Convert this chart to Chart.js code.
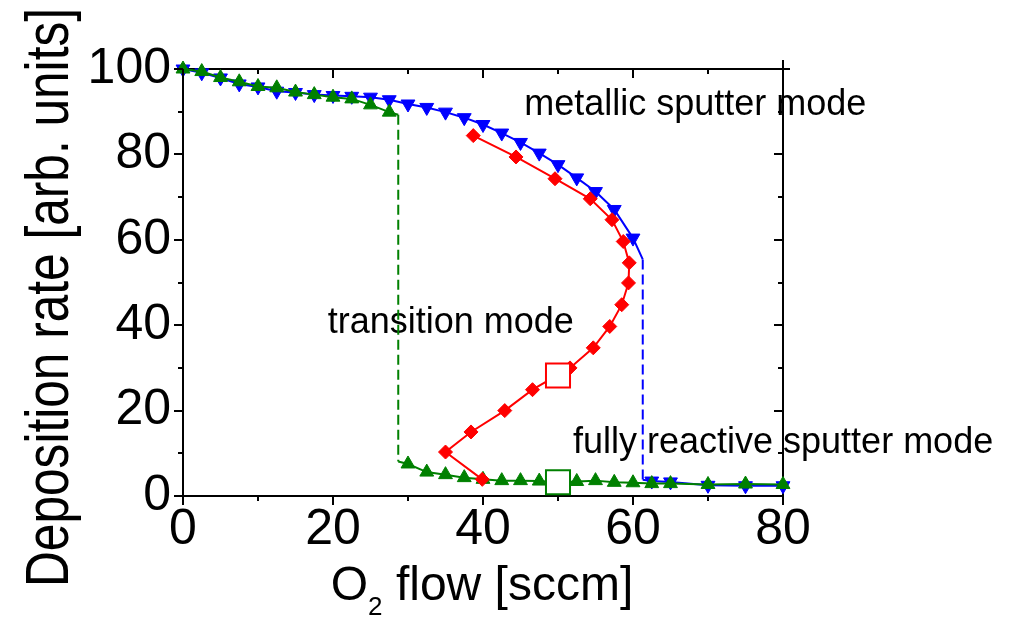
<!DOCTYPE html>
<html>
<head>
<meta charset="utf-8">
<title>Deposition rate vs O2 flow</title>
<script src="https://cdn.jsdelivr.net/npm/chart.js@4.4.1/dist/chart.umd.min.js"></script>
<style>
  html, body { margin: 0; padding: 0; background: #fff; }
  canvas { display: block; }
</style>
</head>
<body>
<canvas id="rateChart" width="1012" height="624"></canvas>
<script>
// O2 flow [sccm] and deposition rate [arb. units]
// metallic branch (blue, falling triangles), jumps down at ~61 sccm
var metalFlow = [0, 2.5, 5, 7.5, 10, 12.5, 15, 17.5, 20, 22.5, 25, 27.5, 30, 32.5, 35, 37.5, 40,
                 42.5, 45, 47.5, 50, 52.5, 55, 57.5, 60, 61.3, 61.3, 62.5, 65, 70, 75, 80];
var metalRate = [100, 99.1, 97.9, 96.5, 95.8, 94.8, 94.5, 94.0, 93.8, 93.6, 93.4, 92.8, 91.8, 91.0, 89.9, 88.6, 87.0,
                 85.0, 82.8, 80.3, 77.6, 74.5, 71.3, 67.1, 60.4, 55.4, 3.8, 3.5, 3.3, 2.5, 2.4, 2.4];

// reactive branch (green, rising triangles), jumps down at ~29 sccm
var reactFlow = [0, 2.5, 5, 7.5, 10, 12.5, 15, 17.5, 20, 22.5, 25, 27.5, 28.7, 28.7,
                 30, 32.5, 35, 37.5, 40, 42.5, 45, 47.5, 50, 52.5, 55, 57.5, 60, 62.5, 65, 70, 75, 80];
var reactRate = [100, 99.4, 98.0, 97.0, 95.9, 95.6, 94.6, 94.0, 93.4, 93.0, 91.6, 89.9, 89.3, 8.1,
                 7.5, 5.6, 5.0, 4.3, 3.9, 3.6, 3.6, 3.5, 3.2, 3.4, 3.6, 3.2, 3.1, 2.9, 2.9, 2.7, 2.8, 2.7];

// transition mode (red diamonds), S-shaped curve
var transFlow = [38.7, 44.4, 49.6, 54.3, 57.2, 58.7, 59.5, 59.4, 58.5, 56.9, 54.7, 51.6, 46.6, 42.9, 38.4, 35.0, 39.9];
var transRate = [84.4, 79.4, 74.3, 69.6, 64.7, 59.6, 54.6, 49.9, 44.8, 39.7, 34.7, 30.0, 24.9, 20.0, 15.0, 10.3, 3.9];

// open squares: operating points at 50 sccm
var opFlow = [50, 50];
var opRate = [28.2, 3.2];

// labelled ticks
var xTickLabels = [0, 20, 40, 60, 80];
var yTickLabels = [0, 20, 40, 60, 80, 100];

var FONT = '"Liberation Sans", Arial, sans-serif';
var BLUE = '#0000ff', GREEN = '#008000', RED = '#ff0000';

function toPoints(xs, ys) {
    return xs.map(function(x, i) { return { x: x, y: ys[i] }; });
}

// no marker on the corner points of a vertical jump (xs is the whole branch)
function markerSize(xs, r, offset) {
    return function(c) {
        var i = c.dataIndex + offset;
        return (xs[i - 1] === xs[i] || xs[i + 1] === xs[i]) ? 0 : r;
    };
}

function curve(xs, ys, from, to, color, style, rot, r, order) {
    return {
        data: toPoints(xs.slice(from, to), ys.slice(from, to)),
        borderColor: color,
        borderWidth: 2,
        backgroundColor: color,
        fill: false,
        pointStyle: style,
        pointRotation: rot,
        pointRadius: markerSize(xs, r, from),
        pointBorderWidth: 1,
        pointBackgroundColor: color,
        pointBorderColor: color,
        tension: 0,
        clip: false,
        order: order
    };
}

// split a branch where two neighbours share the same flow (the jump)
// into solid part, dashed jump, solid part
function branch(xs, ys, color, style, rot, r, order) {
    var k = -1;
    for (var i = 0; i < xs.length - 1; i++) {
        if (xs[i] === xs[i + 1]) { k = i; break; }
    }
    if (k < 0) return [curve(xs, ys, 0, xs.length, color, style, rot, r, order)];
    var jump = curve(xs, ys, k, k + 2, color, style, rot, 0, order);
    jump.borderDash = [10, 5];
    return [
        curve(xs, ys, 0, k + 1, color, style, rot, r, order),
        jump,
        curve(xs, ys, k + 1, xs.length, color, style, rot, r, order)
    ];
}

function opPoint(i, color) {
    return {
        data: [{ x: opFlow[i], y: opRate[i] }],
        showLine: false,
        pointStyle: 'rect',
        pointRadius: 17,
        pointBorderWidth: 2,
        pointBorderColor: color,
        pointBackgroundColor: '#fff',
        clip: false,
        order: 0
    };
}

// annotations, titles and the Origin-style tick marks
var plotText = {
    id: 'plotText',
    beforeDraw: function(chart) {
        var ctx = chart.ctx, xs = chart.scales.x, ys = chart.scales.y;
        var notes = [
            { text: 'metallic sputter mode', x: 45.5, y: 89.3 },
            { text: 'transition mode', x: 19.3, y: 38.2 },
            { text: 'fully reactive sputter mode', x: 52.0, y: 10.1 }
        ];
        ctx.save();
        ctx.fillStyle = '#000';
        ctx.textAlign = 'left';
        ctx.textBaseline = 'alphabetic';
        ctx.font = '36px ' + FONT;
        notes.forEach(function(n) {
            ctx.fillText(n.text, xs.getPixelForValue(n.x), ys.getPixelForValue(n.y));
        });
        ctx.restore();
    },
    afterDraw: function(chart) {
        var ctx = chart.ctx, area = chart.chartArea;
        ctx.save();
        ctx.fillStyle = '#000';

        // y title, narrow like the original
        ctx.save();
        ctx.translate(area.left - 115, (area.top + area.bottom) / 2 + 15);
        ctx.rotate(-Math.PI / 2);
        ctx.scale(0.8, 1);
        ctx.textAlign = 'center';
        ctx.textBaseline = 'alphabetic';
        ctx.font = '62px ' + FONT;
        ctx.fillText('Deposition rate [arb. units]', 0, 0);
        ctx.restore();

        // x title with subscript
        var big = '48px ' + FONT, small = '26px ' + FONT;
        ctx.textAlign = 'left';
        ctx.textBaseline = 'alphabetic';
        ctx.font = big;
        var wO = ctx.measureText('O').width;
        var wRest = ctx.measureText(' flow [sccm]').width;
        ctx.font = small;
        var w2 = ctx.measureText('2').width;
        var x0 = (area.left + area.right) / 2 - 1 - (wO + w2 + wRest) / 2;
        var base = area.bottom + 104;
        ctx.font = big;
        ctx.fillText('O', x0, base);
        ctx.font = small;
        ctx.fillText('2', x0 + wO, base + 15);
        ctx.font = big;
        ctx.fillText(' flow [sccm]', x0 + wO + w2, base);

        // ticks: out on bottom/left, in on top/right; minor every 10
        ctx.strokeStyle = '#000';
        ctx.lineWidth = 2;
        ctx.beginPath();
        ['x', 'x2', 'y', 'y2'].forEach(function(id) {
            var s = chart.scales[id];
            s.ticks.forEach(function(t) {
                var len = t.value % 20 === 0 ? 9 : 5;
                var p = Math.round(s.getPixelForValue(t.value));
                if (id === 'x') { ctx.moveTo(p, area.bottom); ctx.lineTo(p, area.bottom + len); }
                if (id === 'y') { ctx.moveTo(area.left - len, p); ctx.lineTo(area.left, p); }
                if (id === 'x2') {
                    ctx.moveTo(p, area.top + len);
                    ctx.lineTo(p, t.value === s.max ? area.top - 9 : area.top);
                }
                if (id === 'y2') {
                    ctx.moveTo(area.right - len, p);
                    ctx.lineTo(t.value === s.max ? area.right + 7 : area.right, p);
                }
            });
        });
        ctx.stroke();
        ctx.restore();
    }
};

var axisBorder = { display: true, color: '#000', width: 2 };
var noGrid = { display: false, drawTicks: false };

var datasets = [opPoint(0, RED), opPoint(1, GREEN)]
    .concat(branch(transFlow, transRate, RED, 'rectRot', 0, 7, 1))
    .concat(branch(reactFlow, reactRate, GREEN, 'triangle', 0, 8, 2))
    .concat(branch(metalFlow, metalRate, BLUE, 'triangle', 180, 8, 3));

new Chart(document.getElementById('rateChart').getContext('2d'), {
    type: 'line',
    data: { datasets: datasets },
    options: {
        responsive: false,
        devicePixelRatio: 1,
        animation: false,
        layout: { padding: 0 },
        plugins: {
            legend: { display: false },
            tooltip: { enabled: false }
        },
        scales: {
            x: {
                type: 'linear', position: 'bottom', min: 0, max: 80,
                grid: noGrid, border: axisBorder,
                ticks: {
                    stepSize: 10, autoSkip: false, maxRotation: 0, padding: 4, color: '#000',
                    font: { family: FONT, size: 50 },
                    callback: function(v) { return xTickLabels.indexOf(v) >= 0 ? String(v) : ''; }
                },
                afterFit: function(s) { s.height = 128; }
            },
            x2: {
                type: 'linear', position: 'top', min: 0, max: 80,
                grid: noGrid, border: axisBorder,
                ticks: { stepSize: 10, display: false },
                afterFit: function(s) { s.height = 69; }
            },
            y: {
                type: 'linear', position: 'left', min: 0, max: 100,
                grid: noGrid, border: axisBorder,
                ticks: {
                    stepSize: 10, autoSkip: false, padding: 12, color: '#000',
                    font: { family: FONT, size: 50 },
                    callback: function(v) { return yTickLabels.indexOf(v) >= 0 ? String(v) : ''; }
                },
                afterFit: function(s) { s.width = 183; }
            },
            y2: {
                type: 'linear', position: 'right', min: 0, max: 100,
                grid: noGrid, border: axisBorder,
                ticks: { stepSize: 10, display: false },
                afterFit: function(s) { s.width = 229; }
            }
        }
    },
    plugins: [plotText]
});
</script>
</body>
</html>
